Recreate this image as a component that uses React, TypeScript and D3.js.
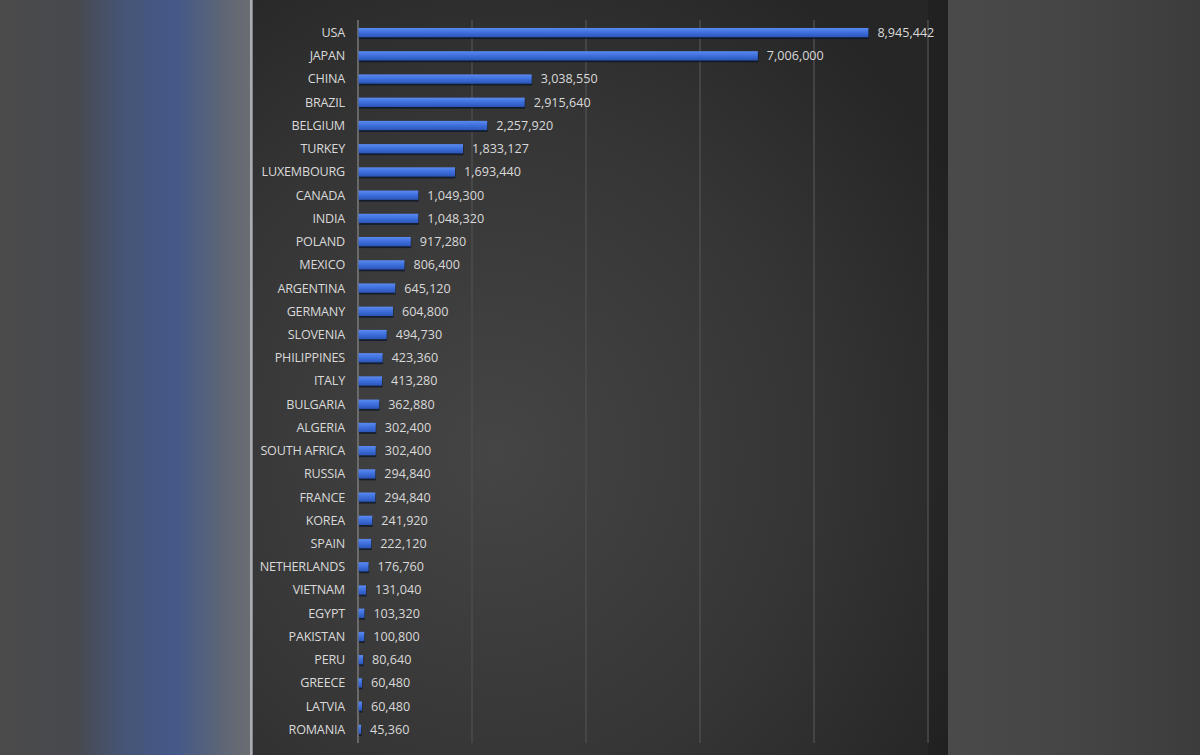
import React from "react";
import * as d3 from "d3";

const countries = [
  "USA", "JAPAN", "CHINA", "BRAZIL", "BELGIUM", "TURKEY", "LUXEMBOURG", "CANADA",
  "INDIA", "POLAND", "MEXICO", "ARGENTINA", "GERMANY", "SLOVENIA", "PHILIPPINES",
  "ITALY", "BULGARIA", "ALGERIA", "SOUTH AFRICA", "RUSSIA", "FRANCE", "KOREA",
  "SPAIN", "NETHERLANDS", "VIETNAM", "EGYPT", "PAKISTAN", "PERU", "GREECE",
  "LATVIA", "ROMANIA",
];
const values = [
  8945442, 7006000, 3038550, 2915640, 2257920, 1833127, 1693440, 1049300,
  1048320, 917280, 806400, 645120, 604800, 494730, 423360,
  413280, 362880, 302400, 302400, 294840, 294840, 241920,
  222120, 176760, 131040, 103320, 100800, 80640, 60480,
  60480, 45360,
];
const xTicks = [0, 2000000, 4000000, 6000000, 8000000, 10000000];

const W = 1200;
const H = 755;

export default function App() {
  const x = d3.scaleLinear().domain([0, 10000000]).range([358, 928]);
  const y = d3.scaleBand<string>().domain(countries).range([21, 741]).paddingInner(0.6).paddingOuter(0.3);
  const fmt = d3.format(",");
  const bw = y.bandwidth();
  return (
    <div style={{ position: "absolute", left: 0, top: 0 }}>
      <svg width={W} height={H} style={{ display: "block" }}>
        <defs>
          <linearGradient id="leftBg" x1="0" x2="1" y1="0" y2="0">
            <stop offset="0" stopColor="#4b4b4b" />
            <stop offset="0.3" stopColor="#47494e" />
            <stop offset="0.5" stopColor="#465577" />
            <stop offset="0.7" stopColor="#445989" />
            <stop offset="0.86" stopColor="#5a6478" />
            <stop offset="1" stopColor="#6b6d70" />
          </linearGradient>
          <radialGradient id="panelBg" cx="0.35" cy="0.6" r="0.75">
            <stop offset="0" stopColor="#454545" />
            <stop offset="0.6" stopColor="#353535" />
            <stop offset="1" stopColor="#262626" />
          </radialGradient>
          <linearGradient id="rightBg" x1="0" x2="1" y1="0" y2="0">
            <stop offset="0" stopColor="#4a4a4a" />
            <stop offset="0.5" stopColor="#454545" />
            <stop offset="1" stopColor="#3c3c3c" />
          </linearGradient>
          <linearGradient id="barFill" x1="0" x2="0" y1="0" y2="1">
            <stop offset="0" stopColor="#5a8af0" />
            <stop offset="0.5" stopColor="#3d6edb" />
            <stop offset="1" stopColor="#2b55b8" />
          </linearGradient>
        </defs>
        <rect x={0} y={0} width={251} height={H} fill="url(#leftBg)" />
        <rect x={250} y={0} width={2.5} height={H} fill="#a9adb5" />
        <rect x={252.5} y={0} width={695.5} height={H} fill="url(#panelBg)" />
        <rect x={928} y={0} width={20} height={H} fill="#000" opacity={0.12} />
        <rect x={948} y={0} width={252} height={H} fill="url(#rightBg)" />
        {xTicks.slice(1).map((t) => (
          <line key={t} x1={x(t)} x2={x(t)} y1={20} y2={743} stroke="#4d4d4d" strokeWidth={1.5} />
        ))}
        <line x1={x(0)} x2={x(0)} y1={20} y2={743} stroke="#8a8a8a" strokeWidth={1.2} />
        {countries.map((c, i) => {
          const y0 = y(c)!;
          const x1 = x(values[i]);
          return (
            <g key={c}>
              <rect x={x(0) + 1} y={y0 + 1.8} width={Math.max(1.5, x1 - x(0))} height={bw} fill="#0a1428" opacity={0.75} />
              <rect x={x(0) + 0.5} y={y0} width={Math.max(1.5, x1 - x(0))} height={bw} fill="url(#barFill)" />
              <text x={345} y={y0 + bw / 2} dy="0.35em" textAnchor="end" fill="#d9d9d9"
                fontFamily="'Open Sans', sans-serif" fontSize={12.6} letterSpacing={-0.2}>{c}</text>
              <text x={x1 + 9.5} y={y0 + bw / 2} dy="0.35em" textAnchor="start" fill="#d9d9d9"
                fontFamily="'Open Sans', sans-serif" fontSize={12.6}>{fmt(values[i])}</text>
            </g>
          );
        })}
      </svg>
    </div>
  );
}
